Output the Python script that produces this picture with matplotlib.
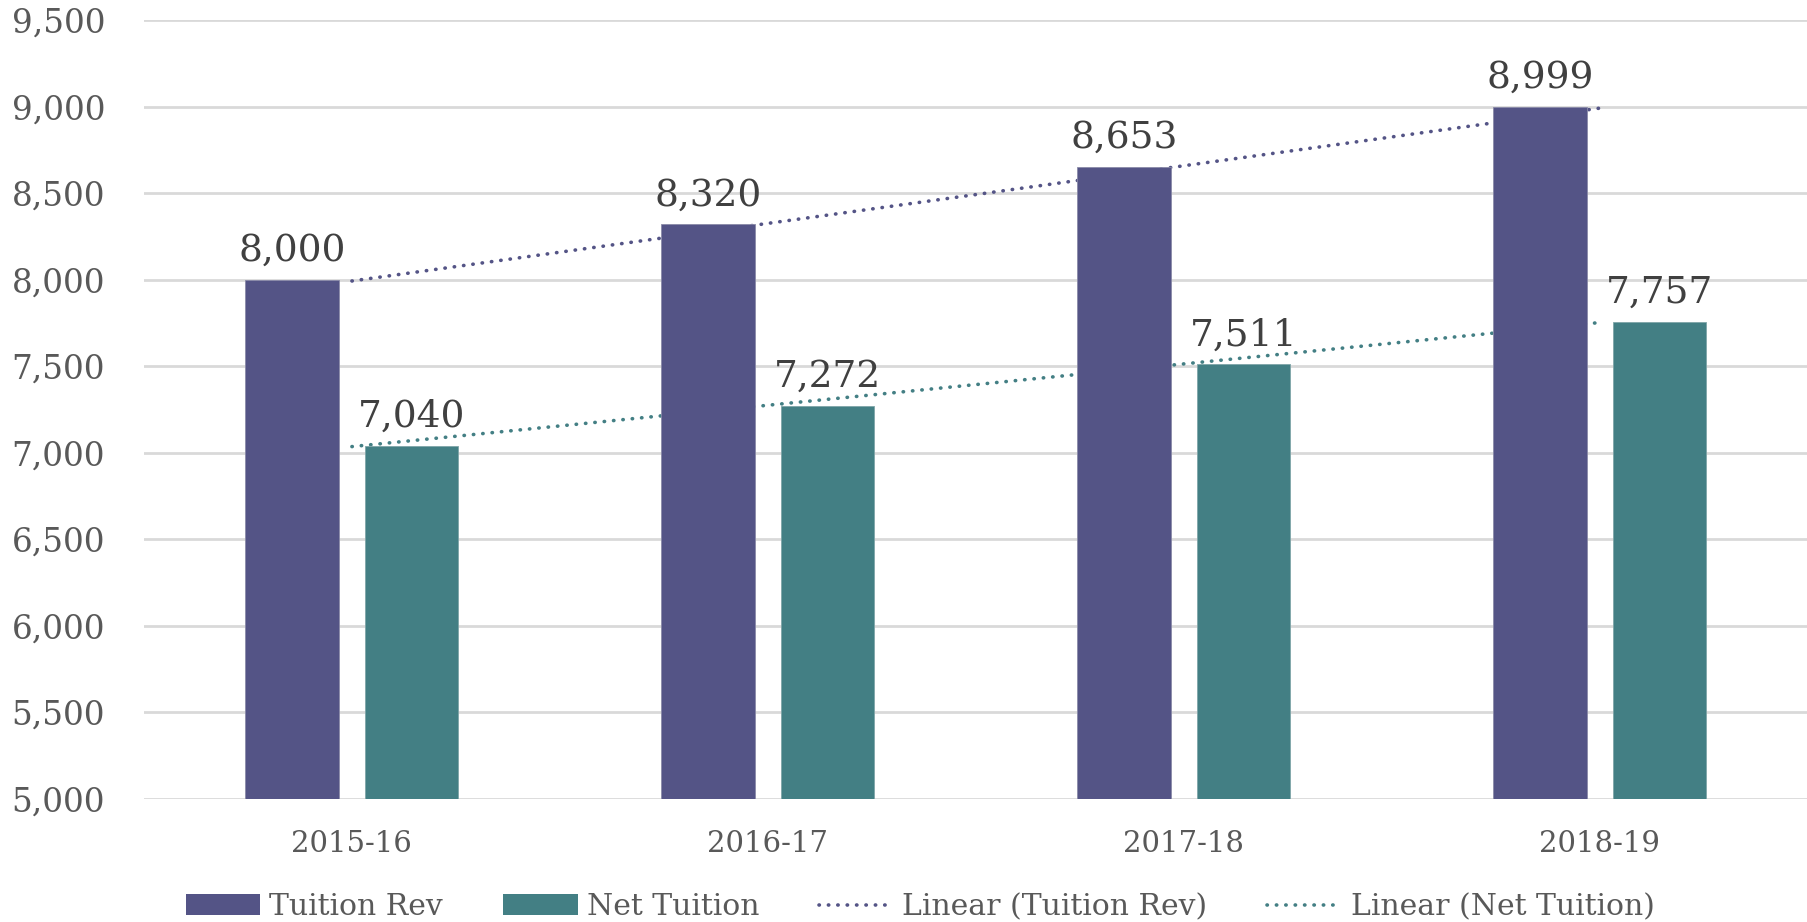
import numpy as np
import matplotlib
matplotlib.use("Agg")
import matplotlib.pyplot as plt
from matplotlib.patches import Patch
from matplotlib.lines import Line2D
from matplotlib.ticker import FuncFormatter

# data
years = ["2015-16", "2016-17", "2017-18", "2018-19"]
tuition_rev = [8000, 8320, 8653, 8999]
net_tuition = [7040, 7272, 7511, 7757]

purple = "#545486"
teal = "#437F84"
grid_col = "#D9D9D9"
tick_col = "#595959"
label_col = "#404040"
dots = (0, (0.1, 2.5))

plt.rcParams['font.family'] = ['DejaVu Serif']

fig = plt.figure(figsize=(18.08, 9.22), dpi=100)
ax = fig.add_axes([0.0796, 0.1334, 0.9204, 0.8446])

x = np.arange(len(years))
w = 0.224
off = 0.144

b1 = ax.bar(x - off, tuition_rev, w, color=purple, edgecolor="#8a8aa8", linewidth=0.6, zorder=3)
b2 = ax.bar(x + off, net_tuition, w, color=teal, edgecolor="#7fa5a8", linewidth=0.6, zorder=3)

# linear trendlines at category centres, behind the bars
for vals, col in [(tuition_rev, purple), (net_tuition, teal)]:
    k, c = np.polyfit(x, vals, 1)
    ax.plot(x, k * x + c, color=col, linewidth=2.6, linestyle=dots,
            dash_capstyle='round', zorder=2)

for bars, vals in [(b1, tuition_rev), (b2, net_tuition)]:
    for r, v in zip(bars, vals):
        ax.annotate(f"{v:,}", (r.get_x() + r.get_width() / 2, v), xytext=(0, 8),
                    textcoords="offset points", ha="center", va="bottom",
                    fontsize=27, color=label_col)

ax.set_xlim(-0.5, 3.5)
ax.set_ylim(5000, 9500)
ax.set_yticks(np.arange(5000, 9501, 500))
ax.yaxis.set_major_formatter(FuncFormatter(lambda v, p: f"{int(v):,}"))
ax.set_xticks(x)
ax.set_xticklabels(years)
ax.tick_params(axis="y", length=0, pad=28, labelsize=23.5, labelcolor=tick_col)
ax.tick_params(axis="x", length=0, pad=22, labelsize=21, labelcolor=tick_col)
ax.grid(axis="y", color=grid_col, linewidth=2, zorder=0)
ax.set_axisbelow(True)
for s in ax.spines.values():
    s.set_visible(False)

handles = [Patch(facecolor=purple), Patch(facecolor=teal),
           Line2D([0], [0], color=purple, lw=2.6, ls=dots, dash_capstyle='round'),
           Line2D([0], [0], color=teal, lw=2.6, ls=dots, dash_capstyle='round')]
names = ["Tuition Rev", "Net Tuition", "Linear (Tuition Rev)", "Linear (Net Tuition)"]
leg = fig.legend(handles, names, loc="center", bbox_to_anchor=(0.509, 0.016), ncol=4,
                 frameon=False, fontsize=21.5, handlelength=2.5, handleheight=0.7,
                 handletextpad=0.3, columnspacing=2.0, labelcolor=tick_col)

fig.savefig("out.png", dpi=100)
